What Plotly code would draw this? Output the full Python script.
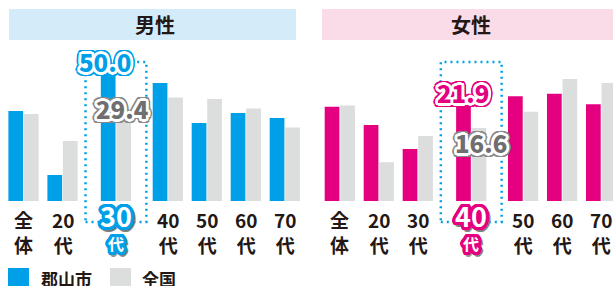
import math
import plotly.graph_objects as go

# ---------------- data ----------------
categories = ["全体", "20代", "30代", "40代", "50代", "60代", "70代"]
tick_labels = ["全<br>体", "20<br>代", "30<br>代", "40<br>代", "50<br>代", "60<br>代", "70<br>代"]
panel_titles = ["男性", "女性"]
series_names = ["郡山市", "全国"]
male_koriyama = [32.7, 9.5, 50.0, 42.9, 28.4, 32.0, 30.2]
male_national = [31.6, 21.8, 29.4, 37.6, 37.1, 33.6, 26.7]
female_koriyama = [21.4, 17.3, 11.8, 21.9, 23.8, 24.4, 22.0]
female_national = [21.7, 8.8, 14.8, 16.6, 20.3, 27.7, 26.8]
male_highlight = 2      # 30代
female_highlight = 3    # 40代

# ---------------- style ----------------
W, H = 613, 286
BLUE = "#00a0e9"
PINK = "#e4007f"
GRAY = "#dcdddd"
DARK = "#231815"
HEAD_BLUE = "#d4ecf9"
HEAD_PINK = "#fadbe8"
FONT = "Noto Sans CJK JP"
PX_PER_UNIT = 39.0
BASE_PX = 201.0
TOP_PX = 41.0
GAP_BEFORE, GAP_AFTER = 0.37, 0.70


def px(x):
    return x / W


def py(y):
    return 1 - y / H


def positions(hi):
    out = []
    for i in range(len(categories)):
        if i < hi:
            out.append(float(i))
        elif i == hi:
            out.append(i + GAP_BEFORE)
        else:
            out.append(i + GAP_AFTER)
    return out


def outline(ring, ring_r, outer, outer_r, drop=None):
    parts = []
    radii = [(1.0, ring), (ring_r * 0.6, ring), (ring_r, ring),
             (ring_r + (outer_r - ring_r) * 0.5, outer), (outer_r, outer)]
    for r, c in radii:
        for k in range(20):
            a = 2 * math.pi * k / 20
            parts.append(f"{r*math.cos(a):.2f}px {r*math.sin(a):.2f}px 0 {c}")
    if drop:
        for k in range(20):
            a = 2 * math.pi * k / 20
            parts.append(f"{outer_r*math.cos(a)+1.5:.2f}px {outer_r*math.sin(a)+1.5:.2f}px 0 {drop}")
    return ", ".join(parts)


panels = [
    dict(vals=(male_koriyama, male_national), color=BLUE, hi=male_highlight,
         xaxis="x", yaxis="y", origin=23.5, dom=(0.0, 0.5), px_per_val=2.75,
         head=(9, 296), head_col=HEAD_BLUE, title_x=155,
         label_shift=(1.5, 11.5), label_dx=(-3.5, -2.2), lab_col=("#00a0e9", "#6f6f6f"),
         lab_out=(BLUE, "#8a8a8a")),
    dict(vals=(female_koriyama, female_national), color=PINK, hi=female_highlight,
         xaxis="x2", yaxis="y2", origin=339.8, dom=(0.5, 1.0), px_per_val=4.4,
         head=(322, 625), head_col=HEAD_PINK, title_x=471.5,
         label_shift=(12.0, -14.5), label_dx=(-0.8, 1.5), lab_col=(PINK, "#6f6f6f"),
         lab_out=(PINK, "#8a8a8a")),
]

fig = go.Figure()
shapes, annots = [], []

for p in panels:
    pos = positions(p["hi"])
    kor, nat = p["vals"]
    fig.add_trace(go.Bar(x=pos, y=kor, name=series_names[0], marker_color=p["color"],
                         marker_line_width=0, xaxis=p["xaxis"], yaxis=p["yaxis"],
                         showlegend=False, offsetgroup="a"))
    fig.add_trace(go.Bar(x=pos, y=nat, name=series_names[1], marker_color=GRAY,
                         marker_line_width=0, xaxis=p["xaxis"], yaxis=p["yaxis"],
                         showlegend=False, offsetgroup="b"))

    # header band
    shapes.append(dict(type="rect", xref="paper", yref="paper",
                       x0=px(p["head"][0]), x1=px(p["head"][1]), y0=py(40), y1=py(9),
                       fillcolor=p["head_col"], line_width=0, layer="below"))
    annots.append(dict(text=panel_titles[panels.index(p)], xref="paper", yref="paper",
                       x=px(p["title_x"]), y=py(25), xanchor="center", yanchor="middle",
                       showarrow=False, font=dict(family=FONT, size=20, color=DARK, weight="bold")))

    hi = p["hi"]
    xr = p["xaxis"]
    # dotted highlight frame
    shapes.append(dict(type="rect", xref=xr, yref="paper",
                       x0=pos[hi] - 0.78, x1=pos[hi] + 0.78, y0=py(222), y1=py(62),
                       line=dict(color=BLUE, width=2.5, dash="2px,4px"), fillcolor="rgba(0,0,0,0)",
                       layer="above"))

    # tick labels
    for i, t in enumerate(tick_labels):
        if i == hi:
            num, dai = t.split("<br>")
            sh = outline(p["color"], 2.2, p["color"], 3.2, drop="rgba(120,120,120,0.6)")
            annots.append(dict(text=num, xref=xr, yref="paper", x=pos[i], y=py(215),
                               xanchor="center", yanchor="middle", showarrow=False,
                               font=dict(family=FONT, size=27, color="white", weight="bold", shadow=sh)))
            annots.append(dict(text=dai, xref=xr, yref="paper", x=pos[i], y=py(243),
                               xanchor="center", yanchor="middle", showarrow=False,
                               font=dict(family=FONT, size=16, color="white", weight="bold", shadow=sh)))
        else:
            annots.append(dict(text=t, xref=xr, yref="paper", x=pos[i], y=py(204),
                               xanchor="center", yanchor="top", showarrow=False,
                               font=dict(family=FONT, size=19, color=DARK, weight="bold")))

    # value labels on highlighted group
    yr = p["yaxis"]
    for j, series in enumerate((kor, nat)):
        xc = pos[hi] + (-0.2 if j == 0 else 0.2)
        sh = outline("white", 2.6, p["lab_out"][j], 4.4)
        annots.append(dict(text=f"{series[hi]:.1f}", xref=xr, yref=yr, x=xc, y=series[hi],
                           xanchor="center", yanchor="middle", showarrow=False,
                           yshift=p["label_shift"][j], xshift=p["label_dx"][j],
                           font=dict(family=FONT, size=24, color=p["lab_col"][j], weight=900, shadow=sh)))

# legend (manual)
leg = [(8, BLUE, 39), (110, GRAY, 140)]
for (x0, col, tx), name in zip(leg, series_names):
    shapes.append(dict(type="rect", xref="paper", yref="paper", x0=px(x0), x1=px(x0 + 21),
                       y0=py(290), y1=py(268), fillcolor=col, line_width=0))
    annots.append(dict(text=name, xref="paper", yref="paper", x=px(tx), y=py(278),
                       xanchor="left", yanchor="middle", showarrow=False,
                       font=dict(family=FONT, size=17, color=DARK, weight="bold")))

plot_h = BASE_PX - TOP_PX
axis_common = dict(showgrid=False, zeroline=False, showticklabels=False, ticks="", showline=False)
p0, p1 = panels
fig.update_layout(
    width=W, height=H, margin=dict(l=0, r=0, t=0, b=0),
    paper_bgcolor="white", plot_bgcolor="rgba(0,0,0,0)",
    barmode="group", bargap=0.205, bargroupgap=0.05,
    xaxis=dict(domain=list(p0["dom"]),
               range=[(p0["dom"][0] * W - p0["origin"]) / PX_PER_UNIT, (p0["dom"][1] * W - p0["origin"]) / PX_PER_UNIT],
               **axis_common),
    xaxis2=dict(domain=list(p1["dom"]),
                range=[(p1["dom"][0] * W - p1["origin"]) / PX_PER_UNIT, (p1["dom"][1] * W - p1["origin"]) / PX_PER_UNIT],
                **axis_common),
    yaxis=dict(domain=[py(BASE_PX), py(TOP_PX)], range=[0, plot_h / p0["px_per_val"]], **axis_common),
    yaxis2=dict(domain=[py(BASE_PX), py(TOP_PX)], range=[0, plot_h / p1["px_per_val"]], anchor="x2", **axis_common),
    shapes=shapes, annotations=annots, showlegend=False,
)
fig.data[2].update(xaxis="x2", yaxis="y2")
fig.data[3].update(xaxis="x2", yaxis="y2")

fig.write_html(
    "out.html",
    config={"displayModeBar": False},
    post_script="document.body.style.margin='0';document.body.style.padding='0';document.body.style.overflow='hidden';",
)
